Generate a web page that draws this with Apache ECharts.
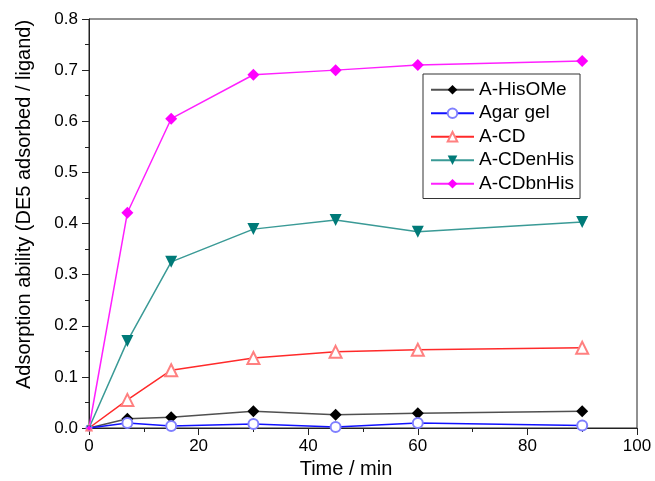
<!DOCTYPE html>
<html>
<head>
<meta charset="utf-8">
<script src="https://cdn.jsdelivr.net/npm/echarts@6/dist/echarts.min.js"></script>
<style>
  html, body { margin: 0; padding: 0; background: #fff; }
  #chart { width: 655px; height: 481px; }
</style>
</head>
<body>
<div id="chart"></div>
<script>
// time points (min)
const times = [0, 7, 15, 30, 45, 60, 90];

// adsorption values
const hisOMe   = [0, 0.018, 0.021, 0.033, 0.026, 0.029, 0.033];
const agarGel  = [0, 0.010, 0.004, 0.008, 0.002, 0.010, 0.005];
const aCD      = [0, 0.055, 0.113, 0.137, 0.149, 0.153, 0.157];
const cdEnHis  = [0, 0.170, 0.325, 0.389, 0.407, 0.384, 0.403];
const cdBnHis  = [0, 0.421, 0.605, 0.691, 0.700, 0.710, 0.718];

// origin marker is mostly hidden behind the axes in the original
const pairs = (ys) => times.map((t, i) => t === 0
  ? { value: [t, ys[i]], symbolSize: 5 }
  : [t, ys[i]]);

const chart = echarts.init(document.getElementById('chart'));
const font = 'Liberation Sans, Arial, sans-serif';

const option = {
  animation: false,
  backgroundColor: '#fff',
  grid: {
    left: 89, right: 18, top: 19, bottom: 53,
    outerBoundsMode: 'none',
    show: true, borderColor: '#222', borderWidth: 1
  },
  legend: {
    orient: 'vertical',
    left: 423,
    top: 74,
    padding: [6, 6, 5, 7],
    borderColor: '#333',
    borderWidth: 1,
    itemWidth: 43,
    itemHeight: 12,
    itemGap: 4,
    textStyle: { fontFamily: font, fontSize: 19, color: '#000', lineHeight: 19.5 },
    data: ['A-HisOMe', 'Agar gel', 'A-CD', 'A-CDenHis', 'A-CDbnHis']
  },
  xAxis: {
    type: 'value',
    min: 0,
    max: 100,
    interval: 20,
    name: 'Time / min',
    nameLocation: 'middle',
    nameGap: 31,
    nameTextStyle: { fontFamily: font, fontSize: 20, color: '#000', padding: [0, 34, 0, 0] },
    axisLine: { lineStyle: { color: '#222', width: 1 } },
    axisTick: { length: 7, lineStyle: { color: '#222' } },
    minorTick: { show: true, splitNumber: 2, length: 4, lineStyle: { color: '#222' } },
    axisLabel: { fontFamily: font, fontSize: 17, color: '#000', margin: 10 },
    splitLine: { show: false }
  },
  yAxis: {
    type: 'value',
    min: 0,
    max: 0.8,
    interval: 0.1,
    name: 'Adsorption ability (DE5 adsorbed / ligand)',
    nameLocation: 'middle',
    nameGap: 55,
    nameTextStyle: { fontFamily: font, fontSize: 20, color: '#000', padding: [0, 0, 0, 38] },
    axisLine: { show: true, lineStyle: { color: '#222', width: 1 } },
    axisTick: { show: true, length: 7, lineStyle: { color: '#222' } },
    minorTick: { show: true, splitNumber: 2, length: 4, lineStyle: { color: '#222' } },
    axisLabel: { fontFamily: font, fontSize: 17, color: '#000', margin: 11, formatter: (v) => v.toFixed(1) },
    splitLine: { show: false }
  },
  series: [
    {
      name: 'A-HisOMe', type: 'line', data: pairs(hisOMe),
      symbol: 'diamond', symbolSize: 12,
      lineStyle: { color: '#505050', width: 1.5 },
      itemStyle: { color: '#000' }
    },
    {
      name: 'Agar gel', type: 'line', data: pairs(agarGel),
      symbol: 'emptyCircle', symbolSize: 10,
      lineStyle: { color: '#1010ff', width: 1.5 },
      itemStyle: { color: '#8080ff', borderColor: '#8080ff', borderWidth: 1.2 }
    },
    {
      name: 'A-CD', type: 'line', data: pairs(aCD),
      symbol: 'emptyTriangle', symbolSize: 12,
      lineStyle: { color: '#ff2a2a', width: 1.5 },
      itemStyle: { color: '#ff8080', borderColor: '#ff8080', borderWidth: 1.2 }
    },
    {
      name: 'A-CDenHis', type: 'line', data: pairs(cdEnHis),
      symbol: 'triangle', symbolRotate: 180, symbolSize: 12,
      lineStyle: { color: '#3a9a96', width: 1.5 },
      itemStyle: { color: '#007a78' }
    },
    {
      name: 'A-CDbnHis', type: 'line', data: pairs(cdBnHis),
      symbol: 'diamond', symbolSize: 12,
      lineStyle: { color: '#ff20ff', width: 1.5 },
      itemStyle: { color: '#ff00ff' }
    }
  ]
};

chart.setOption(option);
</script>
</body>
</html>
